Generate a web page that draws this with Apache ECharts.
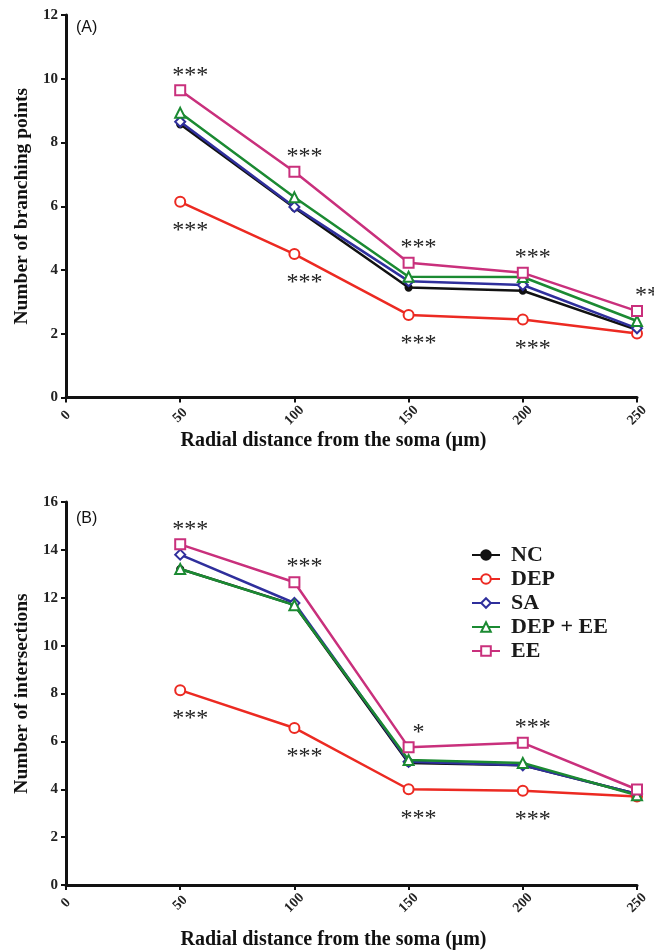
<!DOCTYPE html>
<html><head><meta charset="utf-8">
<script src="https://cdn.jsdelivr.net/npm/echarts@6/dist/echarts.min.js"></script>
<style>html,body{margin:0;padding:0;background:#fff}#c{width:654px;height:951px}</style>
</head><body><div id="c"></div>
<script>
const distances = [50, 100, 150, 200, 250];
const seriesNames = ['NC', 'DEP', 'SA', 'DEP + EE', 'EE'];
// Panel A: number of branching points
const A_NC = [8.57, 5.95, 3.45, 3.35, 2.12];
const A_DEP = [6.14, 4.5, 2.59, 2.45, 2.01];
const A_SA = [8.65, 5.98, 3.65, 3.53, 2.17];
const A_DEPEE = [8.93, 6.28, 3.79, 3.78, 2.4];
const A_EE = [9.64, 7.08, 4.23, 3.91, 2.71];
// Panel B: number of intersections
const B_NC = [13.2, 11.7, 5.1, 5.0, 3.8];
const B_DEP = [8.14, 6.56, 4.0, 3.94, 3.7];
const B_SA = [13.8, 11.78, 5.15, 5.0, 3.8];
const B_DEPEE = [13.2, 11.69, 5.22, 5.1, 3.75];
const B_EE = [14.23, 12.65, 5.75, 5.94, 3.99];
// significance marks
const A_sigEE = ['***', '***', '***', '***', '**'];
const A_sigDEP = ['***', '***', '***', '***', ''];
const B_sigEE = ['***', '***', '*', '***', ''];
const B_sigDEP = ['***', '***', '***', '***', ''];

const colors = ['#111111', '#ec2a22', '#2f2f9c', '#1b8a32', '#c9307c'];
const symbols = ['circle', 'emptyCircle', 'emptyDiamond', 'emptyTriangle', 'emptyRect'];
const sizes = [6, 10, 10, 10, 10];
const serif = '"Liberation Serif", "DejaVu Serif", serif';

function pairs(v) { return distances.map((d, i) => [d, v[i]]); }

function mkSeries(vals, gi, sigEE, sigDEP) {
  return vals.map((v, k) => {
    const s = {
      name: seriesNames[k], type: 'line', xAxisIndex: gi, yAxisIndex: gi,
      data: pairs(v), symbol: symbols[k], symbolSize: sizes[k],
      lineStyle: { color: colors[k], width: 2.5 },
      itemStyle: { color: colors[k], borderColor: colors[k], borderWidth: 2.2 },
      z: 2 + k
    };
    if (k === 4) {
      s.label = { show: true, position: 'top', offset: [10, 8], color: '#222', fontSize: 24, fontFamily: serif,
        formatter: p => sigEE[p.dataIndex] };
    }
    if (k === 1) {
      s.label = { show: true, position: 'bottom', offset: [10, 6], color: '#222', fontSize: 24, fontFamily: serif,
        formatter: p => sigDEP[p.dataIndex] };
    }
    return s;
  });
}

const axisLine = { lineStyle: { color: '#111', width: 3 } };
const axisTick = { lineStyle: { color: '#111', width: 2 }, length: 5 };

function xAx(gi, gap) {
  return {
    type: 'value', gridIndex: gi, min: 0, max: 250, interval: 50,
    axisLine: axisLine, axisTick: axisTick, splitLine: { show: false },
    axisLabel: { rotate: 45, align: 'center', verticalAlign: 'middle', color: '#222', fontFamily: serif, fontWeight: 'bold', fontSize: 14, margin: 18 },
    name: 'Radial distance from the soma (\u03bcm)', nameLocation: 'middle', nameGap: gap,
    nameTextStyle: { color: '#111', fontFamily: serif, fontWeight: 'bold', fontSize: 20, padding: [0, 36, 0, 0] }
  };
}
function yAx(gi, max, name) {
  return {
    type: 'value', gridIndex: gi, min: 0, max: max, interval: 2,
    axisLine: axisLine, axisTick: axisTick, splitLine: { show: false },
    axisLabel: { color: '#222', fontFamily: serif, fontWeight: 'bold', fontSize: 15, margin: 8 },
    name: name, nameLocation: 'middle', nameGap: 31,
    nameTextStyle: { color: '#111', fontFamily: serif, fontWeight: 'bold', fontSize: 19.5 }
  };
}

const chart = echarts.init(document.getElementById('c'));
chart.setOption({
  animation: false,
  backgroundColor: '#fff',
  grid: [
    { left: 66, top: 15, width: 571, height: 382.5 },
    { left: 66, top: 502, width: 571, height: 383 }
  ],
  xAxis: [xAx(0, 30), xAx(1, 45)],
  yAxis: [yAx(0, 12, 'Number of branching points'), yAx(1, 16, 'Number of intersections')],
  legend: {
    data: seriesNames, orient: 'vertical', left: 466, top: 539, itemGap: 2,
    itemWidth: 28, itemHeight: 12,
    textStyle: { color: '#1a1a1a', fontFamily: serif, fontWeight: 'bold', fontSize: 22, padding: [0, 0, 0, 6] }
  },
  graphic: [
    { type: 'text', left: 76, top: 20, style: { text: '(A)', font: '16px "Liberation Sans", Arial', fill: '#111' } },
    { type: 'text', left: 76, top: 511, style: { text: '(B)', font: '16px "Liberation Sans", Arial', fill: '#111' } }
  ],
  series: [
    ...mkSeries([A_NC, A_DEP, A_SA, A_DEPEE, A_EE], 0, A_sigEE, A_sigDEP),
    ...mkSeries([B_NC, B_DEP, B_SA, B_DEPEE, B_EE], 1, B_sigEE, B_sigDEP)
  ]
});
</script></body></html>
